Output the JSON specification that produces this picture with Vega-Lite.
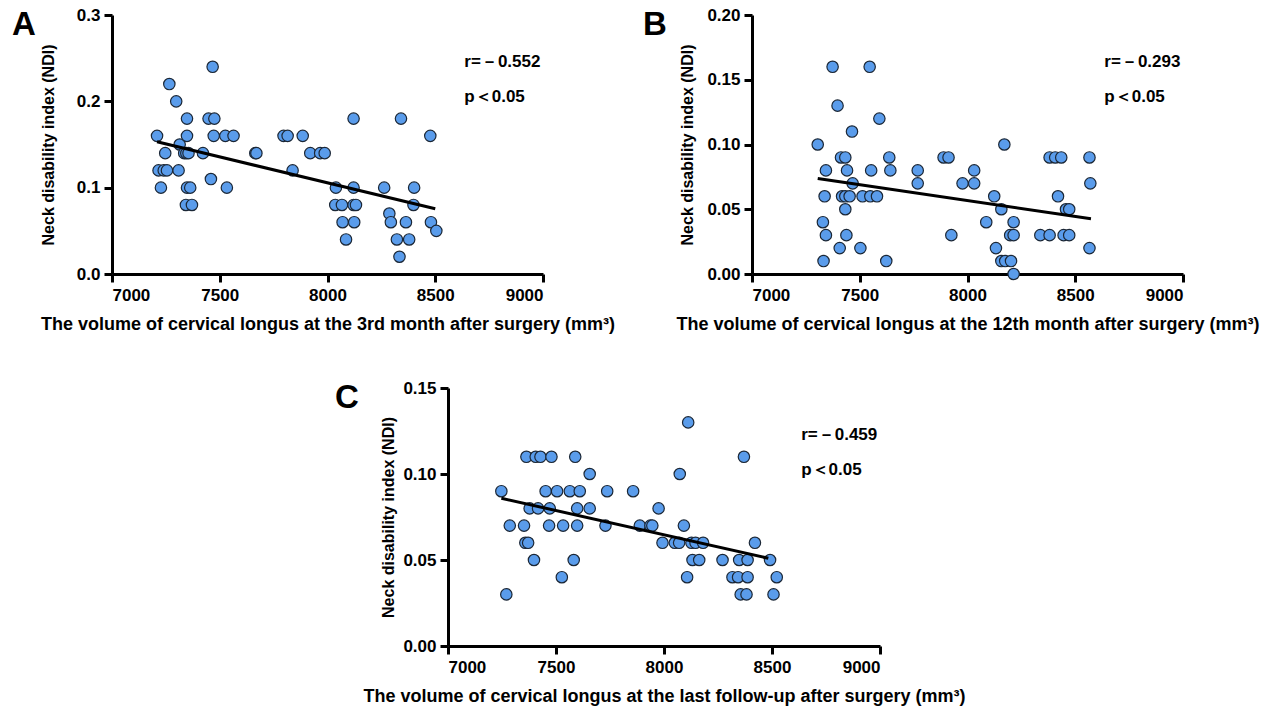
{
  "$schema": "https://vega.github.io/schema/vega-lite/v6.json",
  "padding": {"left": 12, "top": 6, "right": 5, "bottom": 5},
  "background": "white",
  "config": {
    "view": {"stroke": null},
    "font": "Liberation Sans",
    "axis": {
      "grid": false,
      "domainColor": "black",
      "domainWidth": 3,
      "tickColor": "black",
      "tickWidth": 3,
      "tickSize": 8,
      "labelFont": "Liberation Sans",
      "labelFontWeight": "bold",
      "labelFontSize": 17,
      "labelColor": "black",
      "labelPadding": 4,
      "titleFont": "Liberation Sans",
      "titleFontWeight": "bold",
      "titleColor": "black"
    },
    "axisX": {"titlePadding": 12, "labelPadding": 5, "titleFontSize": 18},
    "axisY": {"titlePadding": 12, "titleFontSize": 16},
    "title": {"font": "Liberation Sans", "fontSize": 33, "fontWeight": "bold", "color": "black", "anchor": "start", "frame": "group"}
  },
  "spacing": 46,
  "vconcat": [
    {
      "bounds": "flush",
      "spacing": 209,
      "hconcat": [
        {
          "width": 431,
          "height": 259,
          "title": {"text": "A", "dx": -100, "dy": 40},
          "layer": [
            {
              "data": {"values": [
                {"volume": 7209, "ndi": 0.16}, {"volume": 7266, "ndi": 0.22}, {"volume": 7298, "ndi": 0.20}, {"volume": 7314, "ndi": 0.15},
                {"volume": 7247, "ndi": 0.14}, {"volume": 7216, "ndi": 0.12}, {"volume": 7240, "ndi": 0.12}, {"volume": 7255, "ndi": 0.12},
                {"volume": 7309, "ndi": 0.12}, {"volume": 7227, "ndi": 0.10}, {"volume": 7348, "ndi": 0.18}, {"volume": 7348, "ndi": 0.16},
                {"volume": 7335, "ndi": 0.14}, {"volume": 7345, "ndi": 0.14}, {"volume": 7355, "ndi": 0.14}, {"volume": 7348, "ndi": 0.10},
                {"volume": 7363, "ndi": 0.10}, {"volume": 7343, "ndi": 0.08}, {"volume": 7371, "ndi": 0.08}, {"volume": 7422, "ndi": 0.14},
                {"volume": 7467, "ndi": 0.24}, {"volume": 7448, "ndi": 0.18}, {"volume": 7475, "ndi": 0.18}, {"volume": 7472, "ndi": 0.16},
                {"volume": 7459, "ndi": 0.11}, {"volume": 7526, "ndi": 0.16}, {"volume": 7564, "ndi": 0.16}, {"volume": 7533, "ndi": 0.10},
                {"volume": 7665, "ndi": 0.14}, {"volume": 7670, "ndi": 0.14}, {"volume": 7796, "ndi": 0.16}, {"volume": 7815, "ndi": 0.16},
                {"volume": 7885, "ndi": 0.16}, {"volume": 7838, "ndi": 0.12}, {"volume": 7920, "ndi": 0.14}, {"volume": 7966, "ndi": 0.14},
                {"volume": 7987, "ndi": 0.14}, {"volume": 8039, "ndi": 0.10}, {"volume": 8036, "ndi": 0.08}, {"volume": 8067, "ndi": 0.08},
                {"volume": 8070, "ndi": 0.06}, {"volume": 8086, "ndi": 0.04}, {"volume": 8121, "ndi": 0.18}, {"volume": 8121, "ndi": 0.10},
                {"volume": 8121, "ndi": 0.08}, {"volume": 8132, "ndi": 0.08}, {"volume": 8124, "ndi": 0.06}, {"volume": 8263, "ndi": 0.10},
                {"volume": 8287, "ndi": 0.07}, {"volume": 8294, "ndi": 0.06}, {"volume": 8322, "ndi": 0.04}, {"volume": 8334, "ndi": 0.02},
                {"volume": 8341, "ndi": 0.18}, {"volume": 8364, "ndi": 0.06}, {"volume": 8379, "ndi": 0.04}, {"volume": 8402, "ndi": 0.10},
                {"volume": 8399, "ndi": 0.08}, {"volume": 8477, "ndi": 0.16}, {"volume": 8480, "ndi": 0.06}, {"volume": 8505, "ndi": 0.05}
              ]},
              "mark": {"type": "circle", "size": 130, "fill": "#5A9CEB", "stroke": "#1B2736", "strokeWidth": 1.2, "opacity": 1},
              "encoding": {
                "x": {"field": "volume", "type": "quantitative", "scale": {"domain": [7000, 9000], "nice": false},
                      "axis": {"values": [7000, 7500, 8000, 8500, 9000], "format": "d", "title": "The volume of cervical longus at the 3rd month after surgery (mm³)"}},
                "y": {"field": "ndi", "type": "quantitative", "scale": {"domain": [0, 0.3], "nice": false},
                      "axis": {"values": [0, 0.1, 0.2, 0.3], "format": ".1f", "titlePadding": 20, "title": "Neck disability index (NDI)"}}
              }
            },
            {
              "data": {"values": [{"volume": 7209, "ndi": 0.1531}, {"volume": 8500, "ndi": 0.0756}]},
              "mark": {"type": "line", "color": "black", "strokeWidth": 3},
              "encoding": {"x": {"field": "volume", "type": "quantitative"}, "y": {"field": "ndi", "type": "quantitative"}}
            },
            {
              "data": {"values": [{"volume": 8635, "ndi": 0.2456, "label": "r=－0.552"}, {"volume": 8635, "ndi": 0.205, "label": "p＜0.05"}]},
              "mark": {"type": "text", "align": "left", "baseline": "middle", "fontSize": 17, "fontWeight": "bold", "color": "black"},
              "encoding": {"x": {"field": "volume", "type": "quantitative"}, "y": {"field": "ndi", "type": "quantitative"}, "text": {"field": "label"}}
            }
          ]
        },
        {
          "width": 431,
          "height": 259,
          "title": {"text": "B", "dx": -109, "dy": 40},
          "layer": [
            {
              "data": {"values": [
                {"volume": 7305, "ndi": 0.10}, {"volume": 7343, "ndi": 0.08}, {"volume": 7337, "ndi": 0.06}, {"volume": 7329, "ndi": 0.04},
                {"volume": 7343, "ndi": 0.03}, {"volume": 7332, "ndi": 0.01}, {"volume": 7374, "ndi": 0.16}, {"volume": 7397, "ndi": 0.13},
                {"volume": 7407, "ndi": 0.02}, {"volume": 7413, "ndi": 0.09}, {"volume": 7433, "ndi": 0.09}, {"volume": 7441, "ndi": 0.08},
                {"volume": 7418, "ndi": 0.06}, {"volume": 7433, "ndi": 0.06}, {"volume": 7453, "ndi": 0.06}, {"volume": 7433, "ndi": 0.05},
                {"volume": 7438, "ndi": 0.03}, {"volume": 7464, "ndi": 0.11}, {"volume": 7467, "ndi": 0.07}, {"volume": 7503, "ndi": 0.02},
                {"volume": 7513, "ndi": 0.06}, {"volume": 7549, "ndi": 0.06}, {"volume": 7580, "ndi": 0.06}, {"volume": 7546, "ndi": 0.16},
                {"volume": 7553, "ndi": 0.08}, {"volume": 7591, "ndi": 0.12}, {"volume": 7637, "ndi": 0.09}, {"volume": 7642, "ndi": 0.08},
                {"volume": 7623, "ndi": 0.01}, {"volume": 7769, "ndi": 0.08}, {"volume": 7769, "ndi": 0.07}, {"volume": 7889, "ndi": 0.09},
                {"volume": 7912, "ndi": 0.09}, {"volume": 7925, "ndi": 0.03}, {"volume": 7977, "ndi": 0.07}, {"volume": 8031, "ndi": 0.08},
                {"volume": 8031, "ndi": 0.07}, {"volume": 8087, "ndi": 0.04}, {"volume": 8124, "ndi": 0.06}, {"volume": 8132, "ndi": 0.02},
                {"volume": 8157, "ndi": 0.05}, {"volume": 8157, "ndi": 0.01}, {"volume": 8175, "ndi": 0.01}, {"volume": 8202, "ndi": 0.01},
                {"volume": 8171, "ndi": 0.10}, {"volume": 8198, "ndi": 0.03}, {"volume": 8214, "ndi": 0.03}, {"volume": 8214, "ndi": 0.04},
                {"volume": 8214, "ndi": 0.00}, {"volume": 8338, "ndi": 0.03}, {"volume": 8381, "ndi": 0.03}, {"volume": 8381, "ndi": 0.09},
                {"volume": 8407, "ndi": 0.09}, {"volume": 8435, "ndi": 0.09}, {"volume": 8420, "ndi": 0.06}, {"volume": 8457, "ndi": 0.05},
                {"volume": 8472, "ndi": 0.05}, {"volume": 8446, "ndi": 0.03}, {"volume": 8472, "ndi": 0.03}, {"volume": 8566, "ndi": 0.09},
                {"volume": 8570, "ndi": 0.07}, {"volume": 8566, "ndi": 0.02}
              ]},
              "mark": {"type": "circle", "size": 130, "fill": "#5A9CEB", "stroke": "#1B2736", "strokeWidth": 1.2, "opacity": 1, "clip": false},
              "encoding": {
                "x": {"field": "volume", "type": "quantitative", "scale": {"domain": [7000, 9000], "nice": false},
                      "axis": {"values": [7000, 7500, 8000, 8500, 9000], "format": "d", "title": "The volume of cervical longus at the 12th month after surgery (mm³)"}},
                "y": {"field": "ndi", "type": "quantitative", "scale": {"domain": [0, 0.2], "nice": false},
                      "axis": {"values": [0, 0.05, 0.1, 0.15, 0.2], "format": ".2f", "titlePadding": 11, "title": "Neck disability index (NDI)"}}
              }
            },
            {
              "data": {"values": [{"volume": 7305, "ndi": 0.0738}, {"volume": 8573, "ndi": 0.0426}]},
              "mark": {"type": "line", "color": "black", "strokeWidth": 3},
              "encoding": {"x": {"field": "volume", "type": "quantitative"}, "y": {"field": "ndi", "type": "quantitative"}}
            },
            {
              "data": {"values": [{"volume": 8635, "ndi": 0.1637, "label": "r=－0.293"}, {"volume": 8635, "ndi": 0.1367, "label": "p＜0.05"}]},
              "mark": {"type": "text", "align": "left", "baseline": "middle", "fontSize": 17, "fontWeight": "bold", "color": "black"},
              "encoding": {"x": {"field": "volume", "type": "quantitative"}, "y": {"field": "ndi", "type": "quantitative"}, "text": {"field": "label"}}
            }
          ]
        }
      ]
    },
    {
      "bounds": "flush",
      "spacing": 20,
      "hconcat": [
        {
          "width": 316,
          "height": 259,
          "data": {"values": [{"volume": 0}]},
          "mark": {"type": "point", "opacity": 0},
          "encoding": {}
        },
        {
          "width": 432,
          "height": 258,
          "title": {"text": "C", "dx": -113, "dy": 40},
          "layer": [
            {
              "data": {"values": [
                {"volume": 7247, "ndi": 0.09}, {"volume": 7270, "ndi": 0.03}, {"volume": 7286, "ndi": 0.07}, {"volume": 7352, "ndi": 0.07},
                {"volume": 7363, "ndi": 0.11}, {"volume": 7406, "ndi": 0.11}, {"volume": 7428, "ndi": 0.11}, {"volume": 7378, "ndi": 0.08},
                {"volume": 7417, "ndi": 0.08}, {"volume": 7358, "ndi": 0.06}, {"volume": 7371, "ndi": 0.06}, {"volume": 7398, "ndi": 0.05},
                {"volume": 7452, "ndi": 0.09}, {"volume": 7471, "ndi": 0.08}, {"volume": 7468, "ndi": 0.07}, {"volume": 7479, "ndi": 0.11},
                {"volume": 7505, "ndi": 0.09}, {"volume": 7527, "ndi": 0.04}, {"volume": 7533, "ndi": 0.07}, {"volume": 7564, "ndi": 0.09},
                {"volume": 7589, "ndi": 0.11}, {"volume": 7598, "ndi": 0.08}, {"volume": 7598, "ndi": 0.07}, {"volume": 7610, "ndi": 0.09},
                {"volume": 7582, "ndi": 0.05}, {"volume": 7656, "ndi": 0.10}, {"volume": 7656, "ndi": 0.08}, {"volume": 7729, "ndi": 0.07},
                {"volume": 7737, "ndi": 0.09}, {"volume": 7857, "ndi": 0.09}, {"volume": 7888, "ndi": 0.07}, {"volume": 7937, "ndi": 0.07},
                {"volume": 7946, "ndi": 0.07}, {"volume": 7975, "ndi": 0.08}, {"volume": 7993, "ndi": 0.06}, {"volume": 8050, "ndi": 0.06},
                {"volume": 8070, "ndi": 0.06}, {"volume": 8073, "ndi": 0.10}, {"volume": 8112, "ndi": 0.13}, {"volume": 8092, "ndi": 0.07},
                {"volume": 8107, "ndi": 0.04}, {"volume": 8127, "ndi": 0.06}, {"volume": 8146, "ndi": 0.06}, {"volume": 8181, "ndi": 0.06},
                {"volume": 8132, "ndi": 0.05}, {"volume": 8163, "ndi": 0.05}, {"volume": 8271, "ndi": 0.05}, {"volume": 8317, "ndi": 0.04},
                {"volume": 8343, "ndi": 0.04}, {"volume": 8348, "ndi": 0.05}, {"volume": 8355, "ndi": 0.03}, {"volume": 8382, "ndi": 0.03},
                {"volume": 8370, "ndi": 0.11}, {"volume": 8387, "ndi": 0.05}, {"volume": 8387, "ndi": 0.04}, {"volume": 8421, "ndi": 0.06},
                {"volume": 8491, "ndi": 0.05}, {"volume": 8507, "ndi": 0.03}, {"volume": 8522, "ndi": 0.04}
              ]},
              "mark": {"type": "circle", "size": 130, "fill": "#5A9CEB", "stroke": "#1B2736", "strokeWidth": 1.2, "opacity": 1},
              "encoding": {
                "x": {"field": "volume", "type": "quantitative", "scale": {"domain": [7000, 9000], "nice": false},
                      "axis": {"values": [7000, 7500, 8000, 8500, 9000], "format": "d", "title": "The volume of cervical longus at the last follow-up after surgery (mm³)"}},
                "y": {"field": "ndi", "type": "quantitative", "scale": {"domain": [0, 0.15], "nice": false},
                      "axis": {"values": [0, 0.05, 0.1, 0.15], "format": ".2f", "titlePadding": 6, "title": "Neck disability index (NDI)"}}
              }
            },
            {
              "data": {"values": [{"volume": 7247, "ndi": 0.0859}, {"volume": 8483, "ndi": 0.0510}]},
              "mark": {"type": "line", "color": "black", "strokeWidth": 3},
              "encoding": {"x": {"field": "volume", "type": "quantitative"}, "y": {"field": "ndi", "type": "quantitative"}}
            },
            {
              "data": {"values": [{"volume": 8635, "ndi": 0.1227, "label": "r=－0.459"}, {"volume": 8635, "ndi": 0.1023, "label": "p＜0.05"}]},
              "mark": {"type": "text", "align": "left", "baseline": "middle", "fontSize": 17, "fontWeight": "bold", "color": "black"},
              "encoding": {"x": {"field": "volume", "type": "quantitative"}, "y": {"field": "ndi", "type": "quantitative"}, "text": {"field": "label"}}
            }
          ]
        }
      ]
    }
  ]
}
